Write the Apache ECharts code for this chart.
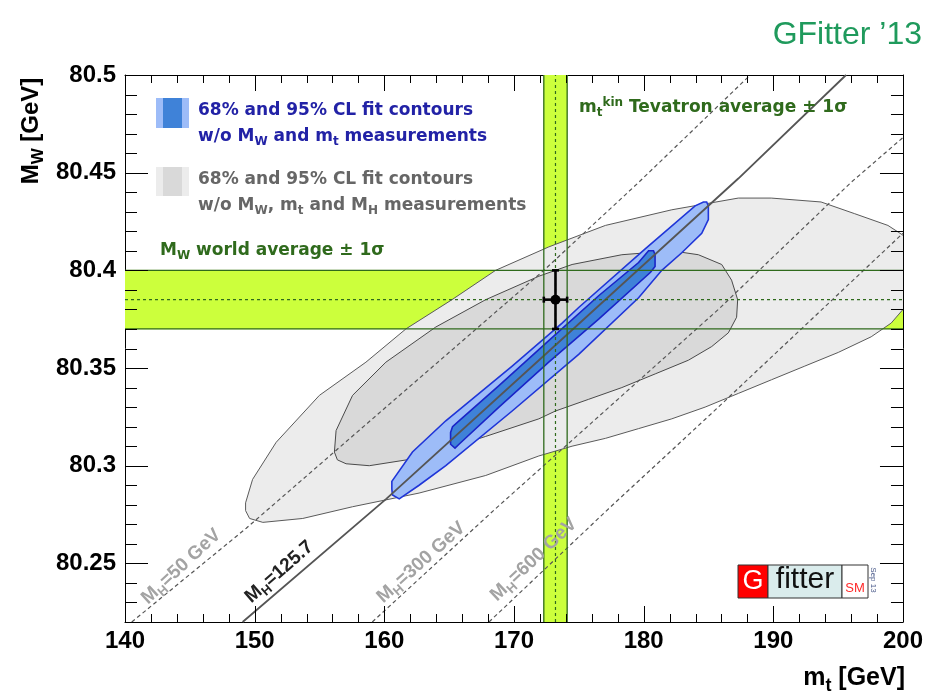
<!DOCTYPE html>
<html>
<head>
<meta charset="utf-8">
<script src="https://cdn.jsdelivr.net/npm/echarts@6/dist/echarts.min.js"></script>
<style>
  html, body { margin: 0; padding: 0; background: #fff; }
  #chart { width: 926px; height: 697px; }
</style>
</head>
<body>
<div id="chart"></div>
<script>
// axis ranges and ticks
var mtRange = [140, 200];
var mwRange = [80.22, 80.5];
var xMajor = [140, 150, 160, 170, 180, 190, 200];
var yMajor = [80.25, 80.3, 80.35, 80.4, 80.45, 80.5];
var xMinor = [142, 144, 146, 148, 152, 154, 156, 158, 162, 164, 166, 168, 172, 174, 176, 178,
  182, 184, 186, 188, 192, 194, 196, 198];
var yMinor = [80.22, 80.23, 80.24, 80.26, 80.27, 80.28, 80.29, 80.31, 80.32, 80.33, 80.34, 80.36,
  80.37, 80.38, 80.39, 80.41, 80.42, 80.43, 80.44, 80.46, 80.47, 80.48, 80.49];

// measurements: low, central, high
var mwWorld = [80.370, 80.385, 80.400];
var mtTevatron = [172.3, 173.2, 174.1];

// SM prediction lines for fixed MH  [mt, MW]
var mh50 = [[140.52, 80.22], [149.35, 80.268], [172.30, 80.400], [179.61, 80.445], [188.22, 80.5]];
var mh125 = [[149.07, 80.22], [160.15, 80.283], [171.92, 80.354], [187.30, 80.447], [195.61, 80.5]];
var mh300 = [[159.07, 80.22], [168.58, 80.278], [185.76, 80.380], [195.99, 80.445], [200, 80.468]];
var mh600 = [[168.07, 80.22], [177.30, 80.278], [185.76, 80.330], [200, 80.419]];

// fit contours w/o MW, mt and MH  (grey)
var gray95 = [[149.30, 80.281], [149.84, 80.293], [151.66, 80.312], [154.99, 80.336], [158.58, 80.353],
  [161.66, 80.370], [165.22, 80.385], [168.58, 80.400], [172.68, 80.412], [177.05, 80.423], [182.17, 80.431],
  [187.30, 80.437], [189.84, 80.437], [193.68, 80.435], [196.28, 80.429], [198.84, 80.423], [200.0, 80.418],
  [201.0, 80.411], [201.5, 80.398], [201.1, 80.385], [200.0, 80.380], [199.09, 80.373], [197.55, 80.366],
  [195.01, 80.358], [192.43, 80.351], [189.86, 80.344], [187.30, 80.337], [184.74, 80.330], [182.17, 80.324],
  [179.61, 80.319], [177.05, 80.314], [174.48, 80.310], [171.92, 80.305], [167.82, 80.295], [162.68, 80.286],
  [157.55, 80.279], [153.71, 80.273], [150.63, 80.271], [149.61, 80.273], [149.30, 80.277]];
var gray68 = [[156.15, 80.307], [156.28, 80.318], [157.55, 80.336], [160.12, 80.353], [163.97, 80.371],
  [167.82, 80.385], [171.92, 80.397], [174.48, 80.403], [178.32, 80.408], [182.17, 80.410], [184.22, 80.408],
  [186.02, 80.403], [186.78, 80.395], [187.25, 80.385], [187.17, 80.376], [186.53, 80.368], [185.25, 80.361],
  [183.45, 80.354], [180.89, 80.347], [178.32, 80.340], [175.76, 80.334], [173.20, 80.328], [171.92, 80.324],
  [167.82, 80.315], [162.68, 80.304], [158.84, 80.300], [157.05, 80.301], [156.38, 80.303]];

// fit contours w/o MW and mt  (blue)
var blue95 = [[160.58, 80.292], [162.17, 80.307], [164.74, 80.323], [169.86, 80.351], [173.71, 80.373],
  [174.99, 80.381], [180.12, 80.411], [183.97, 80.433], [184.61, 80.435], [184.86, 80.435], [184.99, 80.433],
  [184.99, 80.426], [184.48, 80.419], [182.94, 80.409], [181.40, 80.400], [179.61, 80.386], [174.99, 80.357],
  [169.86, 80.328], [164.74, 80.300], [162.68, 80.290], [161.15, 80.283], [160.63, 80.285], [160.58, 80.288]];
var blue68 = [[165.11, 80.317], [165.26, 80.320], [165.76, 80.323], [168.84, 80.341], [172.68, 80.364],
  [176.53, 80.387], [179.61, 80.404], [180.38, 80.410], [180.76, 80.410], [180.88, 80.408], [180.88, 80.402],
  [180.53, 80.399], [176.53, 80.375], [172.68, 80.353], [168.84, 80.330], [165.76, 80.311], [165.45, 80.309],
  [165.11, 80.311]];

var FONT_AX = 'Liberation Sans, Arial, sans-serif';
var FONT_LEG = 'DejaVu Sans, sans-serif';
var GREEN = '#2f6a1c';
var BAND = '#ccff3c';

function polygonSeries(points, fill, stroke, lineWidth, z) {
  return {
    type: 'custom', coordinateSystem: 'cartesian2d', xAxisIndex: 0, yAxisIndex: 0,
    clip: true, silent: true, z: z,
    data: [points[0]],
    renderItem: function (params, api) {
      return {
        type: 'polygon',
        shape: { points: points.map(function (p) { return api.coord(p); }) },
        style: { fill: fill, stroke: stroke || fill, lineWidth: lineWidth }
      };
    }
  };
}

function lineSeries(points, color, width, type, z) {
  return {
    type: 'line', xAxisIndex: 0, yAxisIndex: 0, data: points, showSymbol: false, silent: true,
    clip: true, z: z, lineStyle: { color: color, width: width, type: type }
  };
}

function richText(x, y, str, size, color, family, extra) {
  var sub = Math.round(size * 0.7);
  var base = { fill: color, fontFamily: family, fontWeight: 'bold' };
  var rich = {
    n: Object.assign({ fontSize: size, lineHeight: Math.round(size * 1.3), verticalAlign: 'middle' }, base),
    s: Object.assign({ fontSize: sub, lineHeight: Math.round(size * 0.55), verticalAlign: 'bottom' }, base),
    p: Object.assign({ fontSize: sub, lineHeight: Math.round(size * 0.55), verticalAlign: 'top' }, base)
  };
  var el = {
    type: 'text', x: x, y: y, z: 100, silent: true,
    style: {
      text: str, rich: rich, fontSize: size, fontFamily: family, fontWeight: 'bold', fill: color,
      align: 'left', textAlign: 'left', verticalAlign: 'top', textVerticalAlign: 'top'
    }
  };
  if (extra) {
    if (extra.style) Object.assign(el.style, extra.style);
    if (extra.rotation !== undefined) el.rotation = extra.rotation;
  }
  return el;
}

// axes give the frame and the labels
function xAxisDef(pos) {
  return {
    type: 'value', min: mtRange[0], max: mtRange[1], position: pos,
    axisLine: { show: true, onZero: false, lineStyle: { color: '#000', width: 1 } },
    axisTick: { show: false },
    axisLabel: pos === 'bottom'
      ? { show: true, customValues: xMajor, margin: 7, color: '#000', fontFamily: FONT_AX, fontWeight: 'bold', fontSize: 24 }
      : { show: false },
    splitLine: { show: false }
  };
}

function yAxisDef(pos) {
  return {
    type: 'value', min: mwRange[0], max: mwRange[1], position: pos,
    axisLine: { show: true, onZero: false, lineStyle: { color: '#000', width: 1 } },
    axisTick: { show: false },
    axisLabel: pos === 'left'
      ? { show: true, customValues: yMajor, margin: 9, color: '#000', fontFamily: FONT_AX, fontWeight: 'bold', fontSize: 24 }
      : { show: false },
    splitLine: { show: false }
  };
}

var hBand = [[mtRange[0], mwWorld[0]], [mtRange[1], mwWorld[0]], [mtRange[1], mwWorld[2]], [mtRange[0], mwWorld[2]]];
var vBand = [[mtTevatron[0], mwRange[0]], [mtTevatron[2], mwRange[0]], [mtTevatron[2], mwRange[1]], [mtTevatron[0], mwRange[1]]];

var errorBar = {
  type: 'custom', coordinateSystem: 'cartesian2d', xAxisIndex: 0, yAxisIndex: 0, silent: true, z: 40,
  data: [[mtTevatron[1], mwWorld[1], mtTevatron[2] - mtTevatron[1], mwWorld[2] - mwWorld[1]]],
  renderItem: function (params, api) {
    var x = api.value(0), y = api.value(1), ex = api.value(2), ey = api.value(3);
    var c = api.coord([x, y]);
    var l = api.coord([x - ex, y]), r = api.coord([x + ex, y]);
    var t = api.coord([x, y + ey]), b = api.coord([x, y - ey]);
    function seg(x1, y1, x2, y2) {
      return { type: 'line', shape: { x1: x1, y1: y1, x2: x2, y2: y2 }, style: { stroke: '#000', lineWidth: 2.6 } };
    }
    return {
      type: 'group', children: [
        seg(l[0], c[1], r[0], c[1]),
        seg(c[0], t[1], c[0], b[1]),
        seg(l[0], c[1] - 3, l[0], c[1] + 3),
        seg(r[0], c[1] - 3, r[0], c[1] + 3),
        seg(c[0] - 3.5, t[1], c[0] + 3.5, t[1]),
        seg(c[0] - 3.5, b[1], c[0] + 3.5, b[1]),
        { type: 'circle', shape: { cx: c[0], cy: c[1], r: 5 }, style: { fill: '#000' } }
      ]
    };
  }
};

var labels = [
  // slide title
  { type: 'text', x: 922, y: 51, z: 100, silent: true,
    style: { text: 'GFitter \u201913', fill: '#1f9a5c', fontSize: 32, fontFamily: FONT_AX,
      align: 'right', textAlign: 'right', verticalAlign: 'bottom', textVerticalAlign: 'bottom' } },
  // axis titles
  richText(31, 131, '{n|M}{s|W}{n| [GeV]}', 24, '#000', FONT_AX,
    { rotation: Math.PI / 2, style: { align: 'center', textAlign: 'center', verticalAlign: 'middle', textVerticalAlign: 'middle' } }),
  richText(905, 695, '{n|m}{s|t}{n| [GeV]}', 25, '#000', FONT_AX,
    { style: { align: 'right', textAlign: 'right', verticalAlign: 'bottom', textVerticalAlign: 'bottom' } }),
  // legend icons
  { type: 'rect', z: 100, silent: true, shape: { x: 156, y: 98, width: 33, height: 30 }, style: { fill: '#9dbcf8' } },
  { type: 'rect', z: 101, silent: true, shape: { x: 163, y: 98, width: 19, height: 30 }, style: { fill: '#3f82d8' } },
  { type: 'rect', z: 100, silent: true, shape: { x: 156, y: 167, width: 33, height: 29 }, style: { fill: '#ececec' } },
  { type: 'rect', z: 101, silent: true, shape: { x: 163, y: 167, width: 19, height: 29 }, style: { fill: '#d9d9d9' } },
  // legend texts
  richText(198, 100, '{n|68% and 95% CL fit contours}', 17, '#2222a6', FONT_LEG),
  richText(198, 126, '{n|w/o M}{s|W}{n| and m}{s|t}{n| measurements}', 17, '#2222a6', FONT_LEG),
  richText(198, 169, '{n|68% and 95% CL fit contours}', 17, '#666', FONT_LEG),
  richText(198, 195, '{n|w/o M}{s|W}{n|, m}{s|t}{n| and M}{s|H}{n| measurements}', 17, '#666', FONT_LEG),
  richText(160, 240, '{n|M}{s|W}{n| world average \u00b1 1\u03c3}', 17, GREEN, FONT_LEG),
  richText(579, 97, '{n|m}{s|t}{p|kin}{n| Tevatron average \u00b1 1\u03c3}', 17, GREEN, FONT_LEG),
  // MH line labels
  richText(153, 610, '{n|M}{s|H}{n|=50 GeV}', 19, '#a3a3a3', FONT_AX,
    { rotation: 0.75, style: { verticalAlign: 'bottom', textVerticalAlign: 'bottom' } }),
  richText(256, 609, '{n|M}{s|H}{n|=125.7}', 19, '#222', FONT_AX,
    { rotation: 0.72, style: { verticalAlign: 'bottom', textVerticalAlign: 'bottom' } }),
  richText(388, 609, '{n|M}{s|H}{n|=300 GeV}', 19, '#a3a3a3', FONT_AX,
    { rotation: 0.73, style: { verticalAlign: 'bottom', textVerticalAlign: 'bottom' } }),
  richText(502, 607, '{n|M}{s|H}{n|=600 GeV}', 19, '#a3a3a3', FONT_AX,
    { rotation: 0.76, style: { verticalAlign: 'bottom', textVerticalAlign: 'bottom' } }),
  // Gfitter logo
  { type: 'rect', z: 100, silent: true, shape: { x: 738, y: 565, width: 30, height: 33 }, style: { fill: '#ff0000', stroke: '#333', lineWidth: 1 } },
  { type: 'rect', z: 100, silent: true, shape: { x: 768, y: 565, width: 74, height: 33 }, style: { fill: '#daecec', stroke: '#333', lineWidth: 1 } },
  { type: 'rect', z: 100, silent: true, shape: { x: 842, y: 565, width: 26, height: 33 }, style: { fill: '#fff', stroke: '#333', lineWidth: 1 } },
  { type: 'text', x: 753, y: 582, z: 101, silent: true,
    style: { text: 'G', fill: '#fff', fontSize: 27, fontFamily: FONT_AX, align: 'center', textAlign: 'center', verticalAlign: 'middle', textVerticalAlign: 'middle' } },
  { type: 'text', x: 805, y: 580, z: 101, silent: true,
    style: { text: 'fitter', fill: '#111', fontSize: 30, fontFamily: FONT_AX, align: 'center', textAlign: 'center', verticalAlign: 'middle', textVerticalAlign: 'middle' } },
  { type: 'text', x: 855, y: 588, z: 101, silent: true,
    style: { text: 'SM', fill: '#ff2a2a', fontSize: 13, fontFamily: FONT_AX, align: 'center', textAlign: 'center', verticalAlign: 'middle', textVerticalAlign: 'middle' } },
  { type: 'text', x: 873, y: 580, z: 101, silent: true, rotation: -Math.PI / 2,
    style: { text: 'Sep 13', fill: '#4a5a8a', fontSize: 8, fontFamily: FONT_AX, align: 'center', textAlign: 'center', verticalAlign: 'middle', textVerticalAlign: 'middle' } }
];

var myChart = echarts.init(document.getElementById('chart'));
myChart.setOption({
  backgroundColor: '#fff',
  animation: false,
  grid: { left: 125, right: 21, top: 75, bottom: 75 },
  xAxis: [xAxisDef('bottom'), xAxisDef('top')],
  yAxis: [yAxisDef('left'), yAxisDef('right')],
  series: [
    polygonSeries(hBand, BAND, null, 0.5, 1),
    polygonSeries(vBand, BAND, null, 0.5, 1),
    polygonSeries(gray95, '#ececec', '#5a5a5a', 1, 5),
    polygonSeries(gray68, '#d9d9d9', '#4a4a4a', 1, 6),
    polygonSeries(blue95, '#9dbcf8', '#1f35d8', 1.6, 7),
    polygonSeries(blue68, '#3f82d8', '#1a24c8', 1.6, 8),
    lineSeries(mh50, '#555', 1.2, [4, 3], 20),
    lineSeries(mh300, '#555', 1.2, [4, 3], 20),
    lineSeries(mh600, '#555', 1.2, [4, 3], 20),
    lineSeries(mh125, '#555', 1.8, 'solid', 20),
    lineSeries([[mtRange[0], mwWorld[0]], [mtRange[1], mwWorld[0]]], GREEN, 1.3, 'solid', 30),
    lineSeries([[mtRange[0], mwWorld[2]], [mtRange[1], mwWorld[2]]], GREEN, 1.3, 'solid', 30),
    lineSeries([[mtRange[0], mwWorld[1]], [mtRange[1], mwWorld[1]]], GREEN, 1.2, [3, 3], 30),
    lineSeries([[mtTevatron[0], mwRange[0]], [mtTevatron[0], mwRange[1]]], GREEN, 1.3, 'solid', 30),
    lineSeries([[mtTevatron[2], mwRange[0]], [mtTevatron[2], mwRange[1]]], GREEN, 1.3, 'solid', 30),
    lineSeries([[mtTevatron[1], mwRange[0]], [mtTevatron[1], mwRange[1]]], GREEN, 1.2, [3, 3], 30),
    errorBar
  ]
});

// inward ticks on all four sides (ROOT style), placed through the grid's own scales
var ticks = [];
function toPx(p) { return myChart.convertToPixel({ gridIndex: 0 }, p); }
var lo = toPx([mtRange[0], mwRange[0]]);
var hi = toPx([mtRange[1], mwRange[1]]);
function tickLine(x1, y1, x2, y2) {
  ticks.push({ type: 'line', z: 200, silent: true, shape: { x1: x1, y1: y1, x2: x2, y2: y2 },
    style: { stroke: '#000', lineWidth: 1 } });
}
function xTick(v, len) {
  var px = Math.round(toPx([v, mwRange[0]])[0]) + 0.5;
  tickLine(px, lo[1], px, lo[1] - len);
  tickLine(px, hi[1], px, hi[1] + len);
}
function yTick(v, len) {
  var py = Math.round(toPx([mtRange[0], v])[1]) + 0.5;
  tickLine(lo[0], py, lo[0] + len, py);
  tickLine(hi[0], py, hi[0] - len, py);
}
xMajor.forEach(function (v) { xTick(v, 16); });
xMinor.forEach(function (v) { xTick(v, 8); });
yMajor.forEach(function (v) { yTick(v, 23); });
yMinor.forEach(function (v) { yTick(v, 12); });

myChart.setOption({ graphic: { elements: labels.concat(ticks) } });
</script>
</body>
</html>
